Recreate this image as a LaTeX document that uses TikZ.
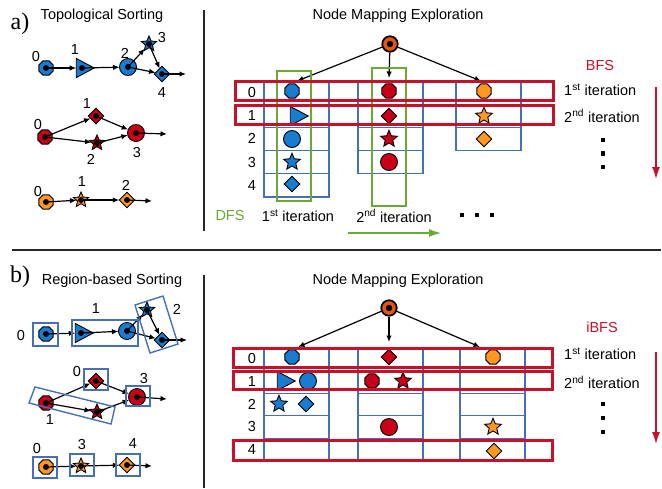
\documentclass[tikz,border=0pt]{standalone}
\usepackage{fontspec}
\setmainfont{Liberation Sans}
\newfontfamily\tagfont{Liberation Serif}
\usetikzlibrary{shapes.geometric,arrows.meta}

\definecolor{nblue}{RGB}{24,124,208}
\definecolor{nred}{RGB}{200,0,24}
\definecolor{norange}{RGB}{255,152,32}
\definecolor{nroot}{RGB}{226,84,24}
\definecolor{cellblue}{RGB}{70,112,182}
\definecolor{bfsred}{RGB}{200,16,40}
\definecolor{dfsgreen}{RGB}{104,170,52}
\definecolor{sepgray}{RGB}{40,40,40}

\tikzset{
  sym/.style={draw=black, line width=0.9pt, inner sep=0pt, outer sep=0pt},
  oct/.style={sym, regular polygon, regular polygon sides=8, minimum size=15.5pt},
  circ/.style={sym, circle, minimum size=17pt},
  tri/.style={sym, isosceles triangle, isosceles triangle apex angle=56, minimum size=18pt},
  dia/.style={sym, diamond, minimum size=15.5pt},
  starn/.style={sym, star, star points=5, star point ratio=2.2, minimum size=17.5pt},
  txt/.style={font=\fontsize{14.5}{17}\selectfont, inner sep=0pt},
  tag/.style={font=\tagfont\fontsize{24}{26}\selectfont, inner sep=0pt},
  edge/.style={line width=1.2pt, ->},
  region/.style={draw=cellblue, line width=1.4pt},
  cell/.style={draw=cellblue, line width=1.3pt},
  bfsrow/.style={draw=bfsred, line width=3pt},
  dfscol/.style={draw=dfsgreen, line width=1.7pt},
  rootnode/.style={circle, draw=black, line width=1.7pt, fill=nroot, minimum size=15.5pt, inner sep=0pt},
}

\begin{document}
\begin{tikzpicture}[x=1pt,y=-1pt,>={Latex[length=6.5pt,width=5.5pt]}]
\useasboundingbox (0,0) rectangle (662,488);

% panel tags and titles
\node[tag] (taga) at (20,24) {a)};
\node[txt] (titlea) at (102,16) {Topological Sorting};
\node[txt] (mapa) at (398,16) {Node Mapping Exploration};
\node[tag] (tagb) at (20,277) {b)};
\node[txt] (titleb) at (112,281) {Region-based Sorting};
\node[txt] (mapb) at (398,281) {Node Mapping Exploration};

% separators
\draw[sepgray, line width=1.8pt] (204,10) -- (204,231);
\draw[sepgray, line width=1.8pt] (12,250) -- (661,250);
\draw[sepgray, line width=1.8pt] (204,275) -- (204,488);

%%%%%%%%%% a) topological sorting %%%%%%%%%%

% blue query
\node[oct, fill=nblue] (tb0) at (46,68) {};
\node[tri, fill=nblue] (tb1) at (82,68) {};
\node[circ, fill=nblue] (tb2) at (128,67) {};
\node[starn, fill=nblue, minimum size=16pt] (tb3) at (149,44) {};
\node[dia, fill=nblue] (tb4) at (162,74) {};
\coordinate (tbx) at (186,74);
\draw[edge] (tb0.center) -- (tb1);
\draw[edge] (tb1.center) -- (tb2);
\draw[edge] (tb2.center) -- (tb3);
\draw[edge] (tb2.center) -- (tb4);
\draw[edge] (tb3.center) -- (tb4);
\draw[edge] (tb4.center) -- (tbx);
\foreach \n in {tb0,tb1,tb2,tb3,tb4} \fill (\n) circle[radius=3pt];
\node[txt] (tb0n) at (36,57) {0};
\node[txt] (tb1n) at (75,50) {1};
\node[txt] (tb2n) at (125,53) {2};
\node[txt] (tb3n) at (162,38) {3};
\node[txt] (tb4n) at (162,93) {4};

% red query
\node[oct, fill=nred] (tr0) at (45,137) {};
\node[dia, fill=nred] (tr1) at (96,116) {};
\node[starn, fill=nred, minimum size=16pt] (tr2) at (97,143) {};
\node[circ, fill=nred] (tr3) at (136,133) {};
\coordinate (trx) at (167,134);
\draw[edge] (tr0.center) -- (tr1);
\draw[edge] (tr0.center) -- (tr2);
\draw[edge] (tr1.center) -- (tr3);
\draw[edge] (tr2.center) -- (tr3);
\draw[edge] (tr3.center) -- (trx);
\foreach \n in {tr0,tr1,tr2,tr3} \fill (\n) circle[radius=3pt];
\node[txt] (tr0n) at (38,125) {0};
\node[txt] (tr1n) at (87,104) {1};
\node[txt] (tr2n) at (91,159) {2};
\node[txt] (tr3n) at (137,153) {3};

% orange query
\node[oct, fill=norange] (to0) at (46,202) {};
\node[starn, fill=norange, minimum size=16pt] (to1) at (81,200) {};
\node[dia, fill=norange] (to2) at (127,200) {};
\coordinate (tox) at (152,201);
\draw[edge] (to0.center) -- (to1);
\draw[edge] (to1.center) -- (to2);
\draw[edge] (to2.center) -- (tox);
\foreach \n in {to0,to1,to2} \fill (\n) circle[radius=3pt];
\node[txt] (to0n) at (38,192) {0};
\node[txt] (to1n) at (82,182) {1};
\node[txt] (to2n) at (126,185) {2};

%%%%%%%%%% a) node mapping, BFS / DFS %%%%%%%%%%

\foreach \r in {0,...,4} \node[txt] (ia\r) at (252,{92.5+23.2*\r}) {\r};
\foreach \r in {0,...,4} \draw[cell] (264,{81+23.2*\r}) rectangle (329,{81+23.2*(\r+1)});
\foreach \r in {0,...,3} \draw[cell] (358,{81+23.2*\r}) rectangle (423,{81+23.2*(\r+1)});
\foreach \r in {0,...,2} \draw[cell] (456,{81+23.2*\r}) rectangle (521,{81+23.2*(\r+1)});

\node[oct, fill=nblue] (mab0) at (292,91) {};
\node[tri, fill=nblue] (mab1) at (296,116) {};
\node[circ, fill=nblue] (mab2) at (292,139) {};
\node[starn, fill=nblue] (mab3) at (292,162) {};
\node[dia, fill=nblue] (mab4) at (292,184) {};
\node[oct, fill=nred] (mar0) at (389,91) {};
\node[dia, fill=nred] (mar1) at (389,116) {};
\node[starn, fill=nred] (mar2) at (389,139) {};
\node[circ, fill=nred] (mar3) at (389,162) {};
\node[oct, fill=norange] (mao0) at (484,91) {};
\node[starn, fill=norange] (mao1) at (484,116) {};
\node[dia, fill=norange] (mao2) at (484,139) {};

% root and its candidates
\node[rootnode] (roota) at (390,44) {};
\coordinate (ca1) at (297,81);
\coordinate (ca2) at (389,78);
\coordinate (ca3) at (481,81);
\foreach \c in {ca1,ca2,ca3} \draw[edge] (roota) -- (\c);
\fill (roota) circle[radius=3.2pt];

% DFS columns and BFS rows
\draw[dfscol] (277,71) rectangle (311,201);
\draw[dfscol] (372,68) rectangle (406,206);
\draw[bfsrow] (235,81) rectangle (553,100);
\draw[bfsrow] (235,105) rectangle (553,124);

\node[txt, text=bfsred] (bfs) at (600,66) {BFS};
\node[txt, anchor=west] (ita1) at (564,90) {1\textsuperscript{st} iteration};
\node[txt, anchor=west] (ita2) at (564,116) {2\textsuperscript{nd} iteration};
\foreach \y in {140,153.5,167} \fill (600.7,\y-2.3) rectangle +(4.6,4.6);
\coordinate (bfsa1) at (656,87);
\coordinate (bfsa2) at (656,179);
\draw[bfsred, line width=1.4pt, -{Latex[length=12pt,width=8pt]}] (bfsa1) -- (bfsa2);

\node[txt, text=dfsgreen] (dfs) at (230,216) {DFS};
\node[txt] (itd1) at (298,216) {1\textsuperscript{st} iteration};
\node[txt] (itd2) at (394,216) {2\textsuperscript{nd} iteration};
\foreach \x in {462,477,492} \fill (\x-2.3,212.7) rectangle +(4.6,4.6);
\coordinate (dfsa1) at (348,233);
\coordinate (dfsa2) at (441,233);
\draw[dfsgreen, line width=1.4pt, -{Latex[length=12pt,width=8pt]}] (dfsa1) -- (dfsa2);

%%%%%%%%%% b) region-based sorting %%%%%%%%%%

% blue query
\node[oct, fill=nblue] (rb0) at (46,334) {};
\node[tri, fill=nblue] (rb1) at (81,333) {};
\node[circ, fill=nblue] (rb2) at (127,331) {};
\node[starn, fill=nblue, minimum size=16pt] (rb3) at (147,310) {};
\node[dia, fill=nblue] (rb4) at (162,340) {};
\coordinate (rbx) at (187,340);
\draw[edge] (rb0.center) -- (rb1);
\draw[edge] (rb1.center) -- (rb2);
\draw[edge] (rb2.center) -- (rb3);
\draw[edge] (rb2.center) -- (rb4);
\draw[edge] (rb3.center) -- (rb4);
\draw[edge] (rb4.center) -- (rbx);
\foreach \n in {rb0,rb1,rb2,rb3,rb4} \fill (\n) circle[radius=3pt];
\draw[region] (33,323) rectangle (58,346);
\draw[region] (72,320) rectangle (138,346);
\draw[region] (135,305) -- (163,296) -- (178,344) -- (150,353) -- cycle;
\node[txt] (rb0n) at (21,336) {0};
\node[txt] (rb1n) at (96,309) {1};
\node[txt] (rb2n) at (177,309) {2};

% red query
\node[oct, fill=nred] (rr0) at (46,403) {};
\node[dia, fill=nred] (rr1) at (96,381) {};
\node[starn, fill=nred, minimum size=16pt] (rr2) at (97,412) {};
\node[circ, fill=nred] (rr3) at (137,397) {};
\coordinate (rrx) at (167,399);
\draw[edge] (rr0.center) -- (rr1);
\draw[edge] (rr0.center) -- (rr2);
\draw[edge] (rr1.center) -- (rr3);
\draw[edge] (rr2.center) -- (rr3);
\draw[edge] (rr3.center) -- (rrx);
\foreach \n in {rr0,rr1,rr2,rr3} \fill (\n) circle[radius=3pt];
\draw[region] (84,369) rectangle (108,390);
\draw[region] (126,386) rectangle (150,406);
\draw[region] (35,387) -- (115,407) -- (111,424) -- (29,403) -- cycle;
\node[txt] (rr1n) at (77,372) {0};
\node[txt] (rr3n) at (144,379) {3};
\node[txt] (rr0n) at (50,420) {1};

% orange query
\node[oct, fill=norange] (ro0) at (46,467) {};
\node[starn, fill=norange, minimum size=16pt] (ro1) at (81,466) {};
\node[dia, fill=norange] (ro2) at (127,465) {};
\coordinate (rox) at (152,466);
\draw[edge] (ro0.center) -- (ro1);
\draw[edge] (ro1.center) -- (ro2);
\draw[edge] (ro2.center) -- (rox);
\foreach \n in {ro0,ro1,ro2} \fill (\n) circle[radius=3pt];
\draw[region] (33,457) rectangle (57,478);
\draw[region] (70,454) rectangle (94,476);
\draw[region] (116,454) rectangle (140,476);
\node[txt] (ro0n) at (37,449) {0};
\node[txt] (ro1n) at (82,445) {3};
\node[txt] (ro2n) at (133,444) {4};

%%%%%%%%%% b) node mapping, iBFS %%%%%%%%%%

\foreach \r in {0,...,4} \node[txt] (ib\r) at (252,{359+22.6*\r}) {\r};
\foreach \r in {0,...,4} {
  \draw[cell] (264,{348+22.6*\r}) rectangle (329,{348+22.6*(\r+1)});
  \draw[cell] (358,{348+22.6*\r}) rectangle (423,{348+22.6*(\r+1)});
  \draw[cell] (460,{348+22.6*\r}) rectangle (525,{348+22.6*(\r+1)});
}

\node[oct, fill=nblue] (mbb0) at (292,357) {};
\node[tri, fill=nblue] (mbb1) at (283,381) {};
\node[circ, fill=nblue] (mbb2) at (308,381) {};
\node[starn, fill=nblue] (mbb3) at (279,404) {};
\node[dia, fill=nblue] (mbb4) at (306,404) {};
\node[dia, fill=nred] (mbr0) at (389,357) {};
\node[oct, fill=nred] (mbr1) at (372,381) {};
\node[starn, fill=nred] (mbr2) at (403,381) {};
\node[circ, fill=nred] (mbr3) at (389,427) {};
\node[oct, fill=norange] (mbo0) at (493,357) {};
\node[starn, fill=norange] (mbo1) at (493,427) {};
\node[dia, fill=norange] (mbo2) at (494,451) {};

% root and its candidates
\node[rootnode] (rootb) at (389,308) {};
\coordinate (cb1) at (298,347);
\coordinate (cb2) at (389,342);
\coordinate (cb3) at (480,347);
\foreach \c in {cb1,cb2,cb3} \draw[edge] (rootb) -- (\c);
\fill (rootb) circle[radius=3.2pt];

% iBFS rows
\draw[bfsrow] (233,348) rectangle (552,367);
\draw[bfsrow] (233,371) rectangle (552,389);
\draw[bfsrow] (233,440) rectangle (552,460);

\node[txt, text=bfsred] (ibfs) at (602,327) {iBFS};
\node[txt, anchor=west] (itb1) at (564,354) {1\textsuperscript{st} iteration};
\node[txt, anchor=west] (itb2) at (564,382) {2\textsuperscript{nd} iteration};
\foreach \y in {404,418,432} \fill (600.7,\y-2.3) rectangle +(4.6,4.6);
\coordinate (ibfs1) at (656,352);
\coordinate (ibfs2) at (656,444);
\draw[bfsred, line width=1.4pt, -{Latex[length=12pt,width=8pt]}] (ibfs1) -- (ibfs2);

\end{tikzpicture}
\end{document}
